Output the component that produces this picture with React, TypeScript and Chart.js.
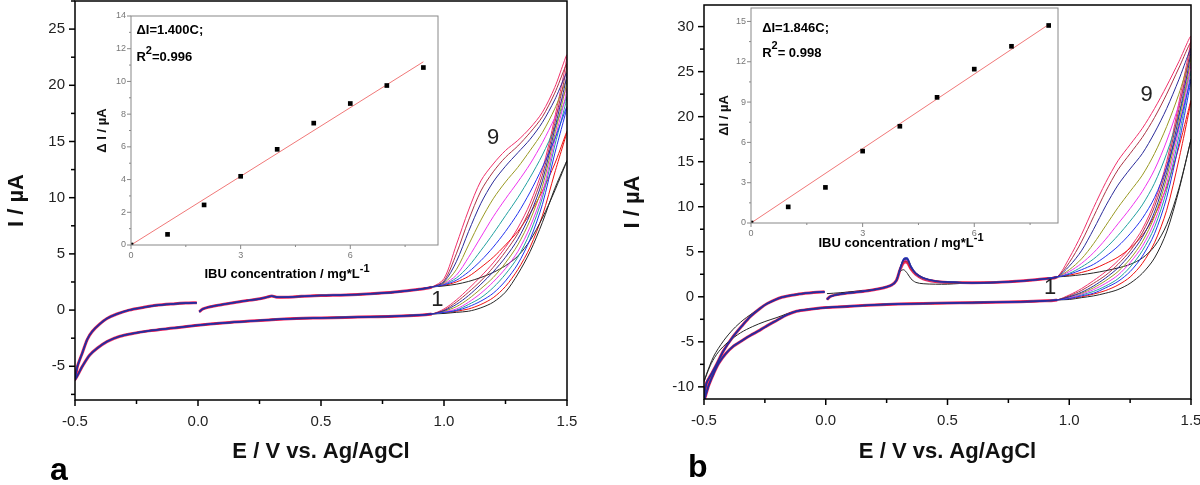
import React, { useEffect, useRef } from 'react';
import { Chart, registerables } from 'chart.js';

Chart.register(...registerables);

const FAMILY = '"Liberation Sans", Arial, Helvetica, sans-serif';

type Pt = [number, number];

// ---------- shared potentials (V) ----------
const FWD_V = [1.0, 1.05, 1.1, 1.15, 1.2, 1.25, 1.3, 1.35, 1.4, 1.45, 1.5];
const REV_V = [1.45, 1.4, 1.35, 1.3, 1.25, 1.2, 1.15, 1.1, 1.05, 1.0];
const PEAK_V_B = [0.29, 0.305, 0.32, 0.335, 0.35, 0.37, 0.4, 0.45, 0.5];

const CURVE_COLORS = ['#262626', '#ee1111', '#2233ee', '#20a0a0', '#ee33ee', '#999922', '#2a2a99', '#aa3344', '#f0306a'];
// dataset order (Chart.js paints the first dataset on top) and widths in the overlapping part of the scans
const STACK_ORDER = [6, 2, 7, 5, 4, 3, 0, 1, 8];
const HALO_WIDTH = [1, 1.8, 1.3, 1.2, 1.2, 1.2, 1.6, 1.2, 3.0];

// ---------- panel a : CV curves ----------
const A_FWD_START: Pt[] = [[0.005, -0.15], [0.02, 0.1], [0.05, 0.3], [0.1, 0.5], [0.15, 0.68], [0.2, 0.85], [0.25, 1.0], [0.28, 1.15], [0.3, 1.25], [0.32, 1.15], [0.36, 1.15], [0.42, 1.22], [0.5, 1.3], [0.6, 1.35], [0.7, 1.45], [0.8, 1.6], [0.9, 1.85], [0.95, 2.05]];
const A_FWD: number[][] = [
  [2.15, 2.3, 2.55, 2.9, 3.35, 3.95, 4.8, 6.2, 8.2, 10.6, 13.3],
  [2.2, 2.5, 3.0, 3.8, 4.7, 5.8, 7.0, 8.6, 10.6, 13.0, 15.9],
  [2.25, 2.65, 3.4, 4.4, 5.6, 7.0, 8.6, 10.5, 12.7, 15.2, 18.1],
  [2.3, 2.85, 3.9, 5.3, 6.8, 8.4, 10.0, 11.8, 13.8, 16.2, 19.0],
  [2.35, 3.1, 4.7, 6.5, 8.3, 9.9, 11.4, 13.0, 14.9, 17.1, 19.7],
  [2.4, 3.6, 5.8, 8.0, 9.9, 11.4, 12.7, 14.2, 15.8, 17.9, 20.5],
  [2.5, 4.3, 7.0, 9.5, 11.4, 12.8, 14.0, 15.2, 16.7, 18.7, 21.1],
  [2.6, 5.0, 8.0, 10.6, 12.3, 13.6, 14.6, 15.8, 17.2, 19.3, 21.9],
  [2.8, 5.8, 8.9, 11.5, 13.0, 14.2, 15.1, 16.2, 17.6, 19.8, 22.7],
];
const A_REV: number[][] = [
  [10.8, 7.8, 5.2, 3.2, 1.6, 0.7, 0.2, -0.1, -0.2, -0.3],
  [12.2, 8.4, 5.6, 3.6, 2.1, 1.1, 0.5, 0.1, -0.1, -0.25],
  [13.9, 9.4, 6.3, 4.1, 2.6, 1.5, 0.8, 0.3, -0.05, -0.2],
  [14.6, 10.0, 6.9, 4.7, 3.2, 2.0, 1.1, 0.5, 0.0, -0.2],
  [15.1, 10.4, 7.4, 5.2, 3.7, 2.5, 1.5, 0.7, 0.1, -0.15],
  [15.6, 11.0, 8.0, 5.8, 4.2, 2.9, 1.9, 1.0, 0.3, -0.1],
  [16.1, 11.5, 8.5, 6.3, 4.7, 3.4, 2.3, 1.3, 0.5, -0.05],
  [16.6, 12.0, 9.0, 6.8, 5.2, 3.8, 2.6, 1.6, 0.7, 0.0],
  [17.1, 12.5, 9.5, 7.3, 5.6, 4.2, 3.0, 1.9, 0.9, 0.1],
];
const A_REV_COMMON: Pt[] = [[0.95, -0.35], [0.9, -0.45], [0.8, -0.55], [0.7, -0.6], [0.6, -0.65], [0.5, -0.7], [0.4, -0.75], [0.3, -0.85], [0.2, -1.0], [0.1, -1.15], [0.0, -1.35], [-0.1, -1.6], [-0.2, -1.85], [-0.27, -2.1], [-0.32, -2.35], [-0.37, -2.8], [-0.41, -3.4], [-0.44, -4.0], [-0.47, -5.0], [-0.5, -6.2]];
const A_LEFT_UP: Pt[] = [[-0.49, -5.0], [-0.47, -3.8], [-0.45, -2.6], [-0.43, -1.9], [-0.4, -1.25], [-0.37, -0.75], [-0.33, -0.35], [-0.28, 0.0], [-0.22, 0.25], [-0.17, 0.42], [-0.1, 0.55], [-0.05, 0.62], [-0.005, 0.65]];

// ---------- panel b : CV curves ----------
const B_FWD_START: Pt[] = [[0.005, -0.3], [0.02, 0.05], [0.06, 0.3], [0.12, 0.5], [0.18, 0.7], [0.23, 0.95], [0.27, 1.3]];
const B_FWD_START_1: Pt[] = [[0.005, 0.35], [0.06, 0.45], [0.12, 0.6], [0.18, 0.75], [0.23, 0.95], [0.27, 1.3]];
const B_PEAK: number[][] = [
  [1.9, 2.8, 3.0, 2.6, 2.0, 1.6, 1.45, 1.4, 1.4],
  [1.8, 3.0, 3.9, 3.9, 3.1, 2.5, 2.0, 1.7, 1.6],
  [1.8, 3.1, 4.2, 4.3, 3.4, 2.6, 2.1, 1.75, 1.65],
  [1.8, 3.0, 4.0, 4.1, 3.2, 2.5, 2.0, 1.7, 1.6],
  [1.8, 3.0, 4.0, 4.0, 3.2, 2.5, 2.0, 1.7, 1.6],
  [1.8, 3.1, 4.2, 4.3, 3.4, 2.6, 2.1, 1.75, 1.65],
  [1.8, 3.1, 4.1, 4.2, 3.3, 2.6, 2.1, 1.75, 1.65],
  [1.8, 3.0, 3.9, 3.9, 3.2, 2.5, 2.0, 1.7, 1.6],
  [1.8, 3.0, 3.8, 3.8, 3.1, 2.5, 2.0, 1.7, 1.6],
];
const B_FWD_MID: Pt[] = [[0.6, 1.55], [0.7, 1.6], [0.8, 1.75], [0.9, 2.0], [0.95, 2.2]];
const B_FWD: number[][] = [
  [2.3, 2.45, 2.65, 2.9, 3.2, 3.6, 4.3, 5.6, 8.0, 12.0, 17.5],
  [2.4, 2.7, 3.1, 3.7, 4.4, 5.4, 6.8, 9.0, 12.2, 16.6, 21.8],
  [2.5, 3.0, 3.6, 4.5, 5.6, 7.0, 8.7, 11.0, 14.4, 18.9, 24.2],
  [2.6, 3.3, 4.2, 5.4, 6.8, 8.4, 10.2, 12.6, 15.9, 20.2, 25.1],
  [2.8, 3.7, 4.9, 6.4, 8.1, 9.8, 11.7, 14.1, 17.3, 21.3, 25.9],
  [3.0, 4.2, 5.9, 7.9, 9.9, 11.7, 13.5, 15.9, 18.9, 22.5, 26.7],
  [3.4, 5.1, 7.5, 10.1, 12.4, 14.2, 15.9, 18.2, 20.9, 24.1, 27.5],
  [3.8, 6.1, 8.9, 11.7, 14.1, 15.9, 17.7, 19.9, 22.5, 25.4, 28.2],
  [4.3, 6.9, 9.9, 12.7, 15.1, 16.9, 18.7, 20.9, 23.4, 26.1, 28.9],
];
const B_REV: number[][] = [
  [11.8, 7.2, 4.3, 2.6, 1.5, 0.8, 0.4, 0.1, -0.1, -0.3],
  [15.2, 9.6, 6.0, 3.7, 2.2, 1.3, 0.7, 0.3, 0.0, -0.2],
  [17.0, 11.0, 7.0, 4.5, 2.8, 1.7, 1.0, 0.4, 0.1, -0.2],
  [17.8, 11.8, 7.7, 5.1, 3.3, 2.0, 1.2, 0.6, 0.2, -0.1],
  [18.6, 12.5, 8.3, 5.6, 3.8, 2.4, 1.5, 0.8, 0.3, -0.1],
  [19.3, 13.2, 8.9, 6.1, 4.2, 2.8, 1.8, 1.0, 0.4, 0.0],
  [20.0, 13.8, 9.4, 6.6, 4.7, 3.2, 2.1, 1.2, 0.5, 0.0],
  [20.8, 14.4, 10.0, 7.1, 5.1, 3.6, 2.4, 1.5, 0.7, 0.1],
  [21.5, 15.0, 10.5, 7.5, 5.5, 4.0, 2.8, 1.8, 0.9, 0.2],
];
const B_REV_COMMON: Pt[] = [[0.95, -0.35], [0.9, -0.45], [0.8, -0.55], [0.7, -0.6], [0.6, -0.65], [0.5, -0.7], [0.4, -0.75], [0.3, -0.8], [0.2, -0.9], [0.1, -1.05], [0.0, -1.2], [-0.07, -1.4], [-0.12, -1.6]];
const B_LOW_LEFT: Pt[] = [[-0.16, -2.0], [-0.2, -2.6], [-0.24, -3.2], [-0.27, -3.7], [-0.31, -4.3], [-0.34, -4.8], [-0.38, -5.5], [-0.41, -6.3], [-0.44, -7.4], [-0.46, -8.5], [-0.48, -9.8], [-0.5, -11.5]];
const B_LOW_LEFT_1: Pt[] = [[-0.16, -1.9], [-0.2, -2.3], [-0.25, -2.75], [-0.3, -3.3], [-0.35, -4.0], [-0.4, -5.0], [-0.44, -6.1], [-0.47, -7.4], [-0.5, -9.4]];
const B_UP_LEFT: Pt[] = [[-0.49, -9.6], [-0.47, -8.6], [-0.45, -7.6], [-0.42, -6.0], [-0.38, -4.4], [-0.34, -3.1], [-0.31, -2.2], [-0.27, -1.3], [-0.24, -0.75], [-0.18, -0.05], [-0.11, 0.3], [-0.05, 0.48], [-0.005, 0.55]];
const B_UP_LEFT_1: Pt[] = [[-0.49, -8.6], [-0.46, -6.6], [-0.42, -4.9], [-0.38, -3.6], [-0.34, -2.6], [-0.31, -2.0], [-0.27, -1.3], [-0.24, -0.75], [-0.18, -0.05], [-0.11, 0.3], [-0.05, 0.48], [-0.005, 0.55]];

// ---------- insets (calibration) ----------
const CONC = [0, 1, 2, 3, 4, 5, 6, 7, 8];
const INSET_A_DI = [0, 0.65, 2.45, 4.2, 5.85, 7.45, 8.65, 9.75, 10.85];
const INSET_B_DI = [0, 1.2, 2.65, 5.35, 7.2, 9.35, 11.45, 13.15, 14.7];
const FIT_A: Pt[] = [[0, 0], [8, 11.2]];
const FIT_B: Pt[] = [[0, 0], [8, 14.77]];

// curve number labels [V, I]
const LABEL_A: { t: string; at: Pt }[] = [{ t: '9', at: [1.2, 15.3] }, { t: '1', at: [0.973, 0.9] }];
const LABEL_B: { t: string; at: Pt }[] = [{ t: '9', at: [1.318, 22.4] }, { t: '1', at: [0.921, 1.0] }];

const toXY = (pts: Pt[]) => pts.map(([x, y]) => ({ x, y }));
const zipV = (vs: number[], is: number[]) => vs.map((v, i) => ({ x: v, y: is[i] }));

function buildA(i: number) {
  return [...toXY(A_FWD_START), ...zipV(FWD_V, A_FWD[i]), ...zipV(REV_V, A_REV[i]), ...toXY(A_REV_COMMON), ...toXY(A_LEFT_UP)];
}
function buildB(i: number) {
  const f = i === 0;
  return [
    ...toXY(f ? B_FWD_START_1 : B_FWD_START),
    ...zipV(PEAK_V_B, B_PEAK[i]),
    ...toXY(B_FWD_MID),
    ...zipV(FWD_V, B_FWD[i]),
    ...zipV(REV_V, B_REV[i]),
    ...toXY(B_REV_COMMON),
    ...toXY(f ? B_LOW_LEFT_1 : B_LOW_LEFT),
    ...toXY(f ? B_UP_LEFT_1 : B_UP_LEFT),
  ];
}

// ---------- plugins ----------
type FrameOpts = { xMajor: number; xMinor: number; yMajor: number; yMinor: number; majorLen: number; minorLen: number; color: string; width: number };
function framePlugin(o: FrameOpts) {
  return {
    id: 'frameTicks',
    afterDatasetsDraw(chart: any) {
      const { ctx, chartArea: a, scales } = chart;
      ctx.save();
      ctx.strokeStyle = o.color;
      ctx.lineWidth = o.width;
      const ticks = (scale: any, major: number, minor: number, horiz: boolean) => {
        const start = Math.ceil((scale.min - 1e-9) / minor);
        for (let k = start; k * minor <= scale.max + 1e-9; k++) {
          const v = k * minor;
          const r = v / major;
          const isMajor = Math.abs(r - Math.round(r)) < 1e-6;
          const len = isMajor ? o.majorLen : o.minorLen;
          const p = scale.getPixelForValue(v);
          ctx.beginPath();
          if (horiz) {
            ctx.moveTo(p, a.bottom);
            ctx.lineTo(p, a.bottom + len);
          } else {
            ctx.moveTo(a.left, p);
            ctx.lineTo(a.left - len, p);
          }
          ctx.stroke();
        }
      };
      ticks(scales.x, o.xMajor, o.xMinor, true);
      ticks(scales.y, o.yMajor, o.yMinor, false);
      ctx.strokeRect(a.left, a.top, a.right - a.left, a.bottom - a.top);
      ctx.restore();
    },
  };
}

type Part = { t: string; sup?: boolean };
type Note = { x: number; y: number; data?: boolean; parts: Part[]; font: string; supFont?: string; supRise?: number; align?: 'left' | 'center'; baseline?: CanvasTextBaseline; color?: string };
function notesPlugin(items: Note[]) {
  return {
    id: 'notes',
    afterDraw(chart: any) {
      const { ctx, scales } = chart;
      for (const it of items) {
        const px = it.data ? scales.x.getPixelForValue(it.x) : it.x;
        const py = it.data ? scales.y.getPixelForValue(it.y) : it.y;
        ctx.save();
        ctx.fillStyle = it.color || '#000';
        ctx.textBaseline = it.baseline || 'middle';
        ctx.textAlign = 'left';
        let total = 0;
        const widths = it.parts.map((p) => {
          ctx.font = p.sup ? it.supFont || it.font : it.font;
          const w = ctx.measureText(p.t).width;
          total += w;
          return w;
        });
        let cx = it.align === 'center' ? px - total / 2 : px;
        it.parts.forEach((p, i) => {
          ctx.font = p.sup ? it.supFont || it.font : it.font;
          ctx.fillText(p.t, cx, p.sup ? py - (it.supRise || 6) : py);
          cx += widths[i];
        });
        ctx.restore();
      }
    },
  };
}

type MainSpec = {
  curves: { x: number; y: number }[][];
  yMin: number; yMax: number;
  padding: { left: number; top: number; right: number; bottom: number };
  yAxisW: number; xAxisH: number; yTitlePad: number; xTitlePad: number;
  labels: { t: string; at: Pt }[];
  letter: { t: string; x: number; y: number };
};

function makeMain(canvas: HTMLCanvasElement, s: MainSpec) {
  const notes: Note[] = [
    ...s.labels.map((l) => ({ x: l.at[0], y: l.at[1], data: true, parts: [{ t: l.t }], font: `22px ${FAMILY}`, align: 'center' as const, color: '#222' })),
    { x: s.letter.x, y: s.letter.y, parts: [{ t: s.letter.t }], font: `bold 32px ${FAMILY}`, baseline: 'alphabetic' as CanvasTextBaseline },
  ];
  return new Chart(canvas, {
    type: 'scatter',
    data: {
      datasets: STACK_ORDER.map((i) => ({
        label: `${i + 1}`,
        data: s.curves[i],
        showLine: true,
        borderColor: CURVE_COLORS[i],
        backgroundColor: CURVE_COLORS[i],
        borderWidth: 1,
        segment: {
          borderWidth: (ctx: any) => (ctx.p0.parsed.x < 0.97 && ctx.p1.parsed.x < 0.97 ? HALO_WIDTH[i] : 1),
        },
        pointRadius: 0,
        tension: 0.3,
        fill: false,
      })),
    },
    options: {
      animation: false,
      responsive: false,
      devicePixelRatio: 1,
      events: [],
      layout: { padding: s.padding },
      plugins: { legend: { display: false }, tooltip: { enabled: false } },
      scales: {
        x: {
          type: 'linear', min: -0.5, max: 1.5,
          grid: { display: false, drawTicks: false }, border: { display: false },
          ticks: { stepSize: 0.5, includeBounds: false, autoSkip: false, maxRotation: 0, padding: 13, color: '#222', font: { family: FAMILY, size: 15 }, callback: (v: any) => Number(v).toFixed(1) },
          title: { display: true, text: 'E / V vs. Ag/AgCl', color: '#111', font: { family: FAMILY, size: 22, weight: 'bold' }, padding: { top: 0, bottom: s.xTitlePad } },
          afterFit: (sc: any) => { sc.height = s.xAxisH; sc.paddingLeft = 0; sc.paddingRight = 0; },
        },
        y: {
          type: 'linear', min: s.yMin, max: s.yMax,
          grid: { display: false, drawTicks: false }, border: { display: false },
          ticks: { stepSize: 5, includeBounds: false, autoSkip: false, padding: 10, color: '#222', font: { family: FAMILY, size: 15 } },
          title: { display: true, text: 'I / µA', color: '#111', font: { family: FAMILY, size: 22, weight: 'bold' }, padding: { top: s.yTitlePad, bottom: 0 } },
          afterFit: (sc: any) => { sc.width = s.yAxisW; sc.paddingTop = 0; sc.paddingBottom = 0; },
        },
      },
    } as any,
    plugins: [framePlugin({ xMajor: 0.5, xMinor: 0.25, yMajor: 5, yMinor: 2.5, majorLen: 6, minorLen: 4, color: '#000', width: 1.5 }), notesPlugin(notes)],
  });
}

type InsetSpec = {
  di: number[]; fit: Pt[]; xMax: number; yMax: number; yStep: number; yMinor: number;
  padding: { left: number; top: number; right: number; bottom: number };
  xAxisH: number; yAxisW: number; yTitle: string; yTitlePad: number;
  eq: string; r2: string; eqAt: Pt; r2At: Pt; xTitleAt: Pt;
};

function makeInset(canvas: HTMLCanvasElement, s: InsetSpec) {
  const notes: Note[] = [
    { x: s.eqAt[0], y: s.eqAt[1], data: true, parts: [{ t: s.eq }], font: `bold 13px ${FAMILY}` },
    { x: s.r2At[0], y: s.r2At[1], data: true, parts: [{ t: 'R' }, { t: '2', sup: true }, { t: s.r2 }], font: `bold 13px ${FAMILY}`, supFont: `bold 11px ${FAMILY}`, supRise: 7 },
    { x: s.xTitleAt[0], y: s.xTitleAt[1], parts: [{ t: 'IBU concentration / mg*L' }, { t: '-1', sup: true }], font: `bold 13px ${FAMILY}`, supFont: `bold 11px ${FAMILY}`, supRise: 5, align: 'center' },
  ];
  return new Chart(canvas, {
    type: 'scatter',
    data: {
      datasets: [
        { label: 'ΔI', data: CONC.map((c, i) => ({ x: c, y: s.di[i] })), showLine: false, pointStyle: 'rect', pointRadius: 3.3, backgroundColor: '#000', borderColor: '#000', borderWidth: 0 },
        { label: 'fit', data: toXY(s.fit), showLine: true, borderColor: '#f07878', borderWidth: 1, pointRadius: 0, tension: 0 },
      ],
    },
    options: {
      animation: false,
      responsive: false,
      devicePixelRatio: 1,
      events: [],
      layout: { padding: s.padding },
      plugins: { legend: { display: false }, tooltip: { enabled: false } },
      scales: {
        x: {
          type: 'linear', min: 0, max: s.xMax,
          grid: { display: false, drawTicks: false }, border: { display: false },
          ticks: { stepSize: 3, includeBounds: false, autoSkip: false, maxRotation: 0, padding: 5, color: '#777', font: { family: FAMILY, size: 9 } },
          afterFit: (sc: any) => { sc.height = s.xAxisH; sc.paddingLeft = 0; sc.paddingRight = 0; },
        },
        y: {
          type: 'linear', min: 0, max: s.yMax,
          grid: { display: false, drawTicks: false }, border: { display: false },
          ticks: { stepSize: s.yStep, includeBounds: false, autoSkip: false, padding: 5, color: '#777', font: { family: FAMILY, size: 9 } },
          title: { display: true, text: s.yTitle, color: '#111', font: { family: FAMILY, size: 13, weight: 'bold' }, padding: { top: s.yTitlePad, bottom: 0 } },
          afterFit: (sc: any) => { sc.width = s.yAxisW; sc.paddingTop = 0; sc.paddingBottom = 0; },
        },
      },
    } as any,
    plugins: [framePlugin({ xMajor: 3, xMinor: 1.5, yMajor: s.yStep, yMinor: s.yMinor, majorLen: 4, minorLen: 2, color: '#888', width: 1 }), notesPlugin(notes)],
  });
}

export default function App() {
  const aRef = useRef<HTMLCanvasElement>(null);
  const bRef = useRef<HTMLCanvasElement>(null);
  const aiRef = useRef<HTMLCanvasElement>(null);
  const biRef = useRef<HTMLCanvasElement>(null);

  useEffect(() => {
    document.body.style.margin = '0';
    const charts: Chart[] = [];
    charts.push(
      makeMain(aRef.current!, {
        curves: CURVE_COLORS.map((_, i) => buildA(i)),
        yMin: -8.0, yMax: 27.5,
        padding: { left: 0, top: 1, right: 33, bottom: 0 },
        yAxisW: 75, xAxisH: 85, yTitlePad: 4, xTitlePad: 20,
        labels: LABEL_A,
        letter: { t: 'a', x: 50, y: 480 },
      })
    );
    charts.push(
      makeMain(bRef.current!, {
        curves: CURVE_COLORS.map((_, i) => buildB(i)),
        yMin: -11.35, yMax: 32.4,
        padding: { left: 0, top: 5, right: 9, bottom: 0 },
        yAxisW: 104, xAxisH: 86, yTitlePad: 20, xTitlePad: 20,
        labels: LABEL_B,
        letter: { t: 'b', x: 88, y: 477 },
      })
    );
    charts.push(
      makeInset(aiRef.current!, {
        di: INSET_A_DI, fit: FIT_A, xMax: 8.4, yMax: 14, yStep: 2, yMinor: 1,
        padding: { left: 0, top: 16, right: 17, bottom: 0 },
        xAxisH: 45, yAxisW: 36, yTitle: 'Δ I / µA', yTitlePad: 0,
        eq: 'ΔI=1.400C;', r2: '=0.996', eqAt: [0.15, 13.1], r2At: [0.15, 11.45], xTitleAt: [192, 274],
      })
    );
    charts.push(
      makeInset(biRef.current!, {
        di: INSET_B_DI, fit: FIT_B, xMax: 8.25, yMax: 16, yStep: 3, yMinor: 1.5,
        padding: { left: 0, top: 8, right: 17, bottom: 0 },
        xAxisH: 42, yAxisW: 36, yTitle: 'ΔI / µA', yTitlePad: 2,
        eq: 'ΔI=1.846C;', r2: '= 0.998', eqAt: [0.3, 14.5], r2At: [0.3, 12.65], xTitleAt: [186, 243],
      })
    );
    return () => charts.forEach((c) => c.destroy());
  }, []);

  const abs = (left: number, w: number, h: number): React.CSSProperties => ({ position: 'absolute', left, top: 0, width: w, height: h });
  return (
    <div style={{ position: 'relative', width: 1200, height: 485, background: '#fff', overflow: 'hidden' }}>
      <canvas ref={aRef} width={600} height={485} style={abs(0, 600, 485)} />
      <canvas ref={bRef} width={600} height={485} style={abs(600, 600, 485)} />
      <canvas ref={aiRef} width={360} height={290} style={abs(95, 360, 290)} />
      <canvas ref={biRef} width={360} height={265} style={abs(715, 360, 265)} />
    </div>
  );
}
